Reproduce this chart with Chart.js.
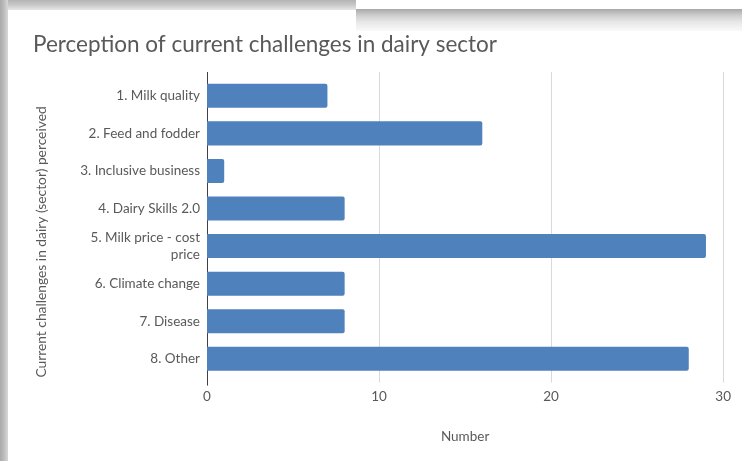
<!DOCTYPE html>
<html>
<head>
<meta charset="utf-8">
<script src="https://cdn.jsdelivr.net/npm/chart.js@4.4.1/dist/chart.umd.min.js"></script>
<style>
  html, body { margin: 0; padding: 0; background: #fff; }
  #wrap { position: relative; width: 742px; height: 461px; overflow: hidden; }
  #chart { position: absolute; left: 0; top: 0; }
  /* window frame shading along the edges */
  .shade-top { position: absolute; left: 0; top: 0; width: 356px; height: 10px;
    background: linear-gradient(#b4b4b4, #c8c8c8 50%, #e6e6e6); }
  .shade-top2 { position: absolute; left: 356px; top: 9px; width: 386px; height: 22px;
    background: linear-gradient(#a8a8a8, #cfcfcf 30%, #e8e8e8 60%, #fafafa); }
  .shade-left { position: absolute; left: 0; top: 0; width: 8px; height: 461px;
    background: linear-gradient(90deg, #a9a9a9, #bdbdbd 50%, #d8d8d8); }
</style>
</head>
<body>
<div id="wrap">
  <canvas id="chart" width="742" height="461"></canvas>
  <div class="shade-top2"></div>
  <div class="shade-top"></div>
  <div class="shade-left"></div>
</div>
<script>
const categories = [
  "1. Milk quality",
  "2. Feed and fodder",
  "3. Inclusive business",
  "4. Dairy Skills 2.0",
  ["5. Milk price - cost", "price"],
  "6. Climate change",
  "7. Disease",
  "8. Other"
];
const counts = [7, 16, 1, 8, 29, 8, 8, 28];
const xTicks = [0, 10, 20, 30];

const textColor = "#595959";
const fontFamily = "Lato, 'Open Sans', sans-serif";

// gridlines and value-axis line run a few pixels past the category band
const gridPlugin = {
  id: "longGrid",
  beforeDatasetsDraw(chart) {
    const { ctx, chartArea, scales } = chart;
    ctx.save();
    ctx.lineWidth = 1;
    xTicks.forEach(v => {
      const x = Math.round(scales.x.getPixelForValue(v)) + 0.5;
      ctx.strokeStyle = v === 0 ? "#404040" : "#d9d9d9";
      ctx.beginPath();
      ctx.moveTo(x, chartArea.top - 5);
      ctx.lineTo(x, chartArea.bottom + (v === 0 ? 8 : 5));
      ctx.stroke();
    });
    ctx.restore();
  }
};

new Chart(document.getElementById("chart"), {
  type: "bar",
  data: {
    labels: categories,
    datasets: [{
      data: counts,
      backgroundColor: "#4f81bd",
      borderWidth: 0,
      borderRadius: 2,
      borderSkipped: "start",
      categoryPercentage: 0.64,
      barPercentage: 1
    }]
  },
  plugins: [gridPlugin],
  options: {
    indexAxis: "y",
    responsive: false,
    animation: false,
    layout: { padding: { left: 33, right: 18, top: 31, bottom: 16 } },
    plugins: {
      legend: { display: false },
      tooltip: { enabled: false },
      title: {
        display: true,
        text: "Perception of current challenges in dairy sector",
        align: "start",
        color: textColor,
        font: { family: fontFamily, size: 22.5, weight: "normal" },
        padding: { top: 0, bottom: 19 }
      }
    },
    scales: {
      x: {
        min: 0,
        max: 30,
        afterBuildTicks: axis => { axis.ticks = xTicks.map(v => ({ value: v })); },
        grid: { display: false, drawTicks: false },
        border: { display: false },
        ticks: { color: textColor, font: { family: fontFamily, size: 13.5 }, padding: 11 },
        title: {
          display: true,
          text: "Number",
          color: textColor,
          font: { family: fontFamily, size: 13.5 },
          padding: { top: 13, bottom: 0 }
        }
      },
      y: {
        afterFit: axis => { axis.width = 174; },
        grid: { display: false, drawTicks: false },
        border: { display: false },
        ticks: { color: textColor, font: { family: fontFamily, size: 13.5 }, padding: 7 },
        title: {
          display: true,
          text: "Current challenges in dairy (sector) perceived",
          align: "start",
          color: textColor,
          font: { family: fontFamily, size: 13.8 },
          padding: { top: 0, bottom: 14 }
        }
      }
    }
  }
});
</script>
</body>
</html>
